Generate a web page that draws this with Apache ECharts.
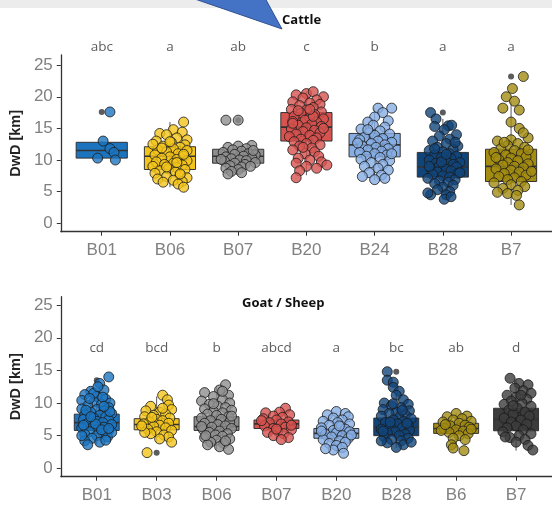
<!DOCTYPE html>
<html><head><meta charset="utf-8">
<script src="https://cdn.jsdelivr.net/npm/echarts@6/dist/echarts.min.js"></script>
<style>html,body{margin:0;padding:0;background:#fff}#c{width:552px;height:506px}</style>
</head><body><div id="c"></div>
<script>
// ---------- DATA ----------
const cattleCats = ['B01','B06','B07','B20','B24','B28','B7'];
const goatCats = ['B01','B03','B06','B07','B20','B28','B6','B7'];
const cattleLetters = ['abc','a','ab','c','b','a','a'];
const goatLetters = ['cd','bcd','b','abcd','a','bc','ab','d'];
const yTicks = [0,5,10,15,20,25];
const cattleLetterY = 27.8;
const goatLetterY = 18.4;
// box stats: [low whisker, Q1, median, Q3, high whisker]
const cattleBox = [
  [10.0,10.3,11.5,12.8,13.0],
  [5.7,8.5,10.6,12.1,16.0],
  [7.6,9.5,10.6,11.7,12.3],
  [7.6,13.0,15.2,17.5,20.8],
  [6.8,10.5,12.4,14.2,18.2],
  [3.8,7.3,8.9,11.2,16.5],
  [2.9,6.6,9.0,11.7,19.3]
];
const goatBox = [
  [3.6,5.8,7.0,8.3,12.0],
  [3.9,5.9,6.7,7.6,11.0],
  [2.8,5.8,6.4,7.9,12.6],
  [4.3,6.1,6.8,7.4,9.0],
  [2.5,4.6,5.35,6.1,8.5],
  [3.1,5.0,6.3,7.7,11.5],
  [3.1,5.35,6.1,6.9,8.4],
  [2.7,5.75,7.5,9.2,13.8]
];
// outliers: [category index, value]
const cattleOutliers = [[0,17.6],[2,16.3],[5,17.5],[6,23.2]];
const goatOutliers = [[0,13.5],[1,2.4],[5,14.8]];
// jittered points: [x offset within category, value]
const cattleB01 = [[0.12,17.6],[0.02,13.0],[0.12,11.8],[0.18,11.2],[-0.06,10.3],[0.2,10.0]];
const cattleB06 = [[0.2,16.0],[0.05,14.8],[-0.15,14.2],[0.18,14.4],[-0.05,14.0],[0.25,13.2],[0.1,13.5],[-0.2,13.0],[0.02,12.8],[0.22,12.4],[-0.1,12.2],[0.15,12.0],[0.05,11.8],[-0.18,11.6],[0.25,11.5],[-0.05,11.3],[0.12,11.0],[-0.22,10.8],[0.2,10.6],[0.0,10.5],[-0.12,10.3],[0.1,10.1],[0.25,9.9],[-0.2,9.7],[0.05,9.5],[-0.08,9.3],[0.18,9.2],[-0.25,9.0],[0.1,8.8],[-0.02,8.6],[0.22,8.5],[-0.15,8.3],[0.08,8.1],[-0.22,7.9],[0.15,7.6],[-0.05,7.4],[0.25,7.2],[-0.18,7.0],[0.05,6.8],[0.18,6.6],[-0.1,6.5],[0.12,6.2],[0.2,5.7],[-0.12,11.9],[0.0,12.9],[0.2,10.9],[-0.25,12.5],[0.1,9.6],[-0.05,8.9],[0.15,7.8]];
const cattleB07 = [[-0.18,16.3],[0.0,16.3],[-0.15,12.0],[0.0,12.2],[0.2,12.3],[0.12,11.8],[-0.08,11.6],[0.05,11.4],[-0.22,11.2],[0.15,11.0],[0.25,10.8],[-0.05,10.9],[0.08,10.6],[-0.18,10.5],[0.2,10.3],[-0.1,10.2],[0.02,10.0],[0.12,9.9],[-0.2,9.8],[0.25,9.6],[-0.05,9.5],[0.1,9.3],[-0.12,9.1],[0.05,8.9],[-0.18,8.7],[0.0,8.5],[-0.1,8.2],[-0.15,7.8],[0.05,8.0],[0.18,9.0],[-0.25,10.1],[0.22,11.5]];
const cattleB20 = [[-0.15,20.3],[0.0,20.5],[0.25,20.0],[0.1,20.8],[-0.05,19.8],[0.15,19.5],[-0.2,19.2],[0.05,19.0],[0.2,18.8],[-0.1,18.6],[0.1,18.3],[-0.22,18.0],[0.0,17.9],[0.22,17.6],[-0.08,17.4],[0.12,17.2],[-0.18,16.9],[0.05,16.7],[0.25,16.5],[-0.02,16.3],[-0.2,16.1],[0.15,16.0],[0.08,15.7],[-0.12,15.5],[0.22,15.3],[0.0,15.1],[-0.22,14.9],[0.12,14.7],[-0.05,14.5],[0.2,14.3],[-0.15,14.1],[0.05,13.9],[-0.25,13.7],[0.15,13.5],[-0.08,13.3],[0.1,13.1],[-0.18,12.9],[0.0,12.6],[0.2,12.4],[-0.1,12.2],[0.08,11.9],[-0.2,11.6],[0.12,11.3],[-0.02,11.0],[0.18,10.6],[-0.12,10.3],[0.05,10.0],[0.22,9.7],[-0.15,9.5],[0.0,9.0],[0.15,8.7],[-0.1,8.3],[-0.15,7.2],[0.3,9.2],[-0.05,12.0],[0.1,16.9],[-0.12,17.8],[0.05,18.0],[0.25,15.0],[-0.2,15.8]];
const cattleB24 = [[0.05,18.2],[0.25,18.2],[0.12,17.5],[0.0,16.8],[-0.1,16.0],[0.2,16.2],[-0.02,15.5],[0.15,15.2],[-0.2,14.9],[0.08,14.6],[-0.08,14.3],[0.22,14.1],[0.0,13.9],[-0.15,13.6],[0.12,13.4],[-0.22,13.2],[0.05,13.0],[0.25,12.8],[-0.05,12.6],[0.15,12.4],[-0.18,12.2],[0.02,12.0],[0.2,11.8],[-0.1,11.6],[0.1,11.4],[-0.22,11.2],[0.0,11.0],[0.18,10.8],[-0.12,10.6],[0.08,10.4],[-0.2,10.1],[0.22,9.9],[-0.05,9.6],[0.12,9.3],[-0.15,9.0],[0.05,8.7],[0.2,8.4],[-0.08,8.0],[0.1,7.6],[-0.18,7.4],[0.0,6.9],[0.15,7.1],[-0.25,12.7],[0.25,11.0],[-0.1,14.8]];
const cattleB28 = [[-0.18,17.5],[-0.1,16.5],[-0.12,15.3],[0.08,15.4],[0.13,15.5],[0.02,14.8],[0.2,14.0],[-0.05,13.8],[0.1,13.3],[-0.15,13.0],[0.05,12.6],[0.22,12.2],[-0.08,12.0],[0.15,11.7],[-0.2,11.5],[0.0,11.3],[0.1,11.0],[-0.12,10.8],[0.2,10.6],[-0.02,10.4],[0.12,10.2],[-0.2,10.0],[0.05,9.8],[0.25,9.6],[-0.1,9.5],[0.15,9.3],[-0.05,9.1],[0.2,8.9],[-0.18,8.7],[0.05,8.5],[0.12,8.3],[-0.08,8.1],[0.22,7.9],[-0.15,7.7],[0.0,7.5],[0.1,7.3],[-0.22,7.1],[0.18,6.9],[-0.05,6.7],[0.08,6.5],[-0.12,6.3],[0.15,6.0],[0.0,5.7],[-0.08,5.3],[0.1,5.0],[0.05,4.5],[-0.18,4.5],[-0.22,4.8],[0.02,3.8],[0.12,4.2],[-0.02,9.7],[0.18,12.8],[-0.2,9.0],[0.25,8.0],[0.05,10.9],[-0.12,11.8]];
const cattleB7 = [[0.18,23.2],[0.02,21.3],[-0.07,20.0],[0.05,19.3],[-0.12,18.2],[0.12,17.9],[0.0,16.0],[0.12,15.0],[0.0,13.2],[0.25,13.5],[-0.2,13.0],[0.1,12.6],[-0.05,12.3],[0.2,12.0],[-0.15,11.8],[0.05,11.5],[-0.25,11.2],[0.15,11.0],[-0.08,10.8],[0.22,10.5],[0.0,10.3],[-0.18,10.1],[0.1,9.9],[-0.05,9.6],[0.25,9.4],[-0.12,9.2],[0.05,9.0],[0.18,8.8],[-0.22,8.6],[0.0,8.4],[0.12,8.1],[-0.1,7.9],[0.22,7.6],[-0.18,7.4],[0.05,7.2],[-0.05,6.9],[0.15,6.6],[-0.25,6.4],[0.0,6.1],[0.2,5.8],[-0.12,5.5],[0.1,5.2],[-0.2,4.9],[-0.05,4.7],[0.08,4.4],[0.12,2.9],[0.25,11.6],[-0.1,12.8],[0.18,14.3],[-0.22,10.4],[0.3,8.2]];
const goatB01 = [[0.2,14.0],[0.05,13.0],[0.12,12.0],[-0.1,11.8],[-0.2,11.3],[0.0,11.0],[0.15,10.6],[-0.25,10.4],[0.22,10.0],[-0.05,10.2],[0.08,9.8],[-0.15,9.6],[0.2,9.3],[-0.25,9.1],[0.0,9.0],[0.12,8.8],[-0.1,8.6],[0.25,8.4],[-0.2,8.2],[0.05,8.1],[0.15,7.9],[-0.05,7.7],[-0.22,7.5],[0.2,7.4],[0.0,7.2],[0.1,7.0],[-0.15,6.9],[0.25,6.7],[-0.05,6.5],[0.12,6.3],[-0.25,6.2],[0.02,6.0],[0.2,5.8],[-0.12,5.6],[0.1,5.4],[-0.2,5.2],[0.0,5.0],[0.18,4.8],[-0.08,4.6],[-0.2,4.2],[0.05,4.0],[0.15,4.3],[-0.15,3.6],[-0.05,11.5],[0.1,10.9],[-0.18,8.9],[0.22,8.7],[-0.02,6.8],[0.08,5.9],[-0.25,5.0],[0.25,5.5],[-0.1,7.9],[0.12,9.5],[-0.12,10.7],[0.02,12.5],[-0.22,6.6],[0.2,6.1]];
const goatB03 = [[0.1,11.2],[0.18,10.5],[0.2,9.7],[-0.1,9.5],[0.25,9.0],[-0.18,8.8],[0.05,8.6],[0.15,8.3],[-0.05,8.1],[-0.2,7.9],[0.22,7.7],[0.0,7.5],[0.1,7.3],[-0.12,7.1],[0.2,6.9],[-0.22,6.8],[0.05,6.6],[-0.05,6.4],[0.15,6.2],[-0.15,6.0],[0.25,5.8],[0.0,5.6],[-0.1,5.3],[0.12,5.1],[0.2,4.8],[-0.2,5.5],[0.05,4.5],[0.25,4.0],[-0.16,2.4],[-0.25,6.5],[0.1,9.2],[-0.08,7.8]];
const goatB06 = [[0.15,12.8],[0.05,12.0],[-0.2,11.6],[0.2,11.2],[-0.05,11.0],[0.1,10.5],[-0.25,10.3],[0.22,10.0],[-0.12,9.8],[0.02,9.5],[0.15,9.3],[-0.2,9.1],[0.25,8.9],[-0.05,8.7],[0.1,8.5],[-0.15,8.3],[0.0,8.1],[0.2,7.9],[-0.25,7.7],[0.08,7.5],[-0.1,7.3],[0.22,7.1],[-0.2,6.9],[0.02,6.7],[0.15,6.5],[-0.08,6.3],[0.25,6.1],[-0.22,5.9],[0.05,5.7],[-0.12,5.5],[0.18,5.3],[-0.02,5.1],[0.1,4.9],[-0.2,4.7],[0.22,4.5],[0.0,4.3],[-0.1,4.0],[0.12,3.8],[0.05,3.3],[0.2,2.9],[-0.15,3.6],[-0.25,6.4],[0.25,8.0],[-0.05,9.9],[0.1,11.8],[-0.18,5.0],[0.15,4.2]];
const goatB07 = [[0.15,9.2],[0.05,8.6],[-0.18,8.5],[0.22,8.2],[-0.05,8.0],[0.1,7.8],[-0.22,7.6],[0.0,7.4],[0.2,7.1],[-0.12,7.0],[0.08,6.8],[-0.2,6.5],[0.15,6.3],[-0.05,6.1],[0.25,5.9],[0.02,5.7],[-0.15,5.5],[0.12,5.3],[-0.05,5.0],[0.2,4.7],[0.08,4.4],[-0.25,7.3],[0.25,6.6],[0.0,6.0]];
const goatB20 = [[0.0,8.7],[0.15,8.4],[-0.15,8.2],[0.2,7.9],[-0.05,7.7],[0.1,7.4],[-0.22,7.2],[0.02,7.0],[0.22,6.8],[-0.12,6.6],[0.08,6.4],[-0.25,6.2],[0.15,6.0],[-0.05,5.8],[0.22,5.6],[0.0,5.4],[-0.18,5.2],[0.1,5.0],[-0.08,4.8],[0.2,4.6],[-0.22,4.4],[0.05,4.2],[0.15,4.0],[-0.12,3.8],[0.0,3.5],[0.1,3.2],[-0.05,2.8],[0.12,2.3],[-0.18,3.0],[0.25,5.1],[-0.25,5.7],[0.05,6.5]];
const goatB28 = [[-0.15,14.8],[-0.15,13.5],[-0.05,13.2],[-0.05,12.4],[0.05,11.8],[0.0,11.2],[0.12,10.5],[-0.2,10.0],[0.2,9.8],[-0.08,9.6],[0.08,9.3],[-0.22,9.0],[0.22,8.8],[0.0,8.6],[-0.12,8.4],[0.15,8.2],[-0.25,8.0],[0.05,7.8],[0.25,7.6],[-0.05,7.4],[0.12,7.2],[-0.18,7.0],[0.02,6.8],[0.2,6.6],[-0.1,6.4],[0.1,6.2],[-0.25,6.0],[0.22,5.8],[-0.02,5.6],[-0.15,5.4],[0.15,5.2],[0.05,5.0],[-0.2,4.8],[0.2,4.6],[-0.08,4.4],[0.08,4.2],[-0.15,3.9],[0.12,3.6],[0.0,3.2],[-0.25,4.2],[0.25,4.0],[-0.05,9.9],[0.1,8.9],[-0.1,7.1],[0.18,6.9],[-0.22,5.7]];
const goatB6 = [[0.0,8.4],[0.18,8.0],[-0.15,7.9],[0.1,7.6],[-0.05,7.4],[0.25,7.2],[-0.22,7.1],[0.05,6.9],[0.15,6.6],[-0.1,6.5],[0.22,6.3],[-0.2,6.1],[0.0,5.9],[0.12,5.7],[-0.12,5.5],[0.2,5.3],[-0.25,5.8],[0.05,5.0],[-0.05,4.6],[0.15,4.4],[-0.08,3.6],[-0.05,3.1],[0.13,2.7],[0.25,6.0],[-0.18,6.7]];
const goatB7 = [[-0.1,13.8],[0.05,13.0],[0.2,12.8],[-0.02,12.3],[0.12,11.9],[0.25,11.5],[-0.15,11.2],[0.0,10.9],[0.18,10.6],[-0.08,10.3],[0.1,10.0],[-0.2,9.8],[0.25,9.5],[0.02,9.2],[-0.12,8.9],[0.15,8.6],[-0.05,8.3],[0.22,8.0],[-0.2,7.7],[0.08,7.4],[-0.08,7.1],[0.18,6.8],[0.0,6.5],[-0.15,6.2],[0.12,5.9],[-0.22,5.6],[0.25,5.3],[0.05,5.0],[-0.1,4.7],[0.15,4.4],[0.0,4.0],[0.2,3.5],[0.28,2.8],[-0.18,4.8],[-0.05,9.6],[0.08,11.2]];
const cattlePoints = [cattleB01,cattleB06,cattleB07,cattleB20,cattleB24,cattleB28,cattleB7];
const goatPoints = [goatB01,goatB03,goatB06,goatB07,goatB20,goatB28,goatB6,goatB7];

// ---------- STYLE ----------
const C = {B01:'#1c74bf',B06:'#f3c41a',B03:'#f3c41a',B07g:'#8e8e8e',B20:'#d6534f',B24:'#86aee3',B28:'#11457a',B7o:'#a38c12',B7d:'#3c3c3c'};
const cattleColors = [C.B01,C.B06,C.B07g,C.B20,C.B24,C.B28,C.B7o];
const goatColors = [C.B01,C.B03,C.B07g,C.B20,C.B24,C.B28,C.B7o,C.B7d];

const chart = echarts.init(document.getElementById('c'), null, {renderer:'canvas'});

function makeBoxRender(colors){
  return function(params, api){
    const x = api.value(0);
    const lo = api.value(1), q1 = api.value(2), md = api.value(3), q3 = api.value(4), hi = api.value(5);
    const w = api.size([0.75,0])[0];
    const pHi = api.coord([x,hi]), pQ3 = api.coord([x,q3]), pMd = api.coord([x,md]), pQ1 = api.coord([x,q1]), pLo = api.coord([x,lo]);
    const cx = pMd[0];
    return {type:'group', children:[
      {type:'line', shape:{x1:cx,y1:pHi[1],x2:cx,y2:pQ3[1]}, style:{stroke:'#555',lineWidth:1}},
      {type:'line', shape:{x1:cx,y1:pQ1[1],x2:cx,y2:pLo[1]}, style:{stroke:'#555',lineWidth:1}},
      {type:'rect', shape:{x:cx-w/2,y:pQ3[1],width:w,height:pQ1[1]-pQ3[1]}, style:{fill:colors[params.dataIndex],stroke:'#333',lineWidth:1}},
      {type:'line', shape:{x1:cx-w/2,y1:pMd[1],x2:cx+w/2,y2:pMd[1]}, style:{stroke:'#333',lineWidth:1.6}}
    ]};
  };
}

function pointData(groups, colors){
  const out = [];
  groups.forEach((g,i)=>g.forEach(p=>out.push({value:[i+p[0],p[1]], itemStyle:{color:colors[i]}})));
  return out;
}

const labelFont = {color:'#808080', fontSize:17, fontFamily:'Liberation Sans'};
function xAxisCfg(grid, cats){
  const idx = cats.map((_,i)=>i);
  return {type:'value', gridIndex:grid, min:-0.6, max:cats.length-0.4,
    axisLine:{show:true,onZero:false,lineStyle:{color:'#333',width:1.3}},
    axisTick:{show:true,length:4,customValues:idx,lineStyle:{color:'#333'}},
    axisLabel:Object.assign({customValues:idx, margin:10, formatter:v=>cats[Math.round(v)]}, labelFont),
    splitLine:{show:false}};
}
function yAxisCfg(grid, min, max){
  return {type:'value', gridIndex:grid, min:min, max:max,
    axisLine:{show:true,onZero:false,lineStyle:{color:'#333',width:1.3}},
    axisTick:{show:true,length:4,customValues:yTicks,lineStyle:{color:'#333'}},
    axisLabel:Object.assign({customValues:yTicks, margin:8}, labelFont),
    splitLine:{show:false},
    name:'DwD [km]', nameLocation:'middle', nameGap:33,
    nameTextStyle:{fontFamily:'Liberation Sans', fontWeight:'bold', fontSize:14.5, color:'#222'}};
}

const ptStyle = {borderColor:'#1a1a1a', borderWidth:1};
const letterStyle = {show:true, position:'inside', color:'#333', fontSize:13.5, fontFamily:'Open Sans'};

const option = {
  animation:false,
  backgroundColor:'#ffffff',
  graphic:[
    {type:'rect', shape:{x:0,y:0,width:552,height:8}, style:{fill:'#ececec'}, z:0},
    {type:'polygon', shape:{points:[[192,-2],[265,-2],[282,29]]}, style:{fill:'#4472c4',stroke:'#2f528f',lineWidth:1}, z:10}
  ],
  title:[
    {text:'Cattle', left:282, top:14, padding:0, textStyle:{fontFamily:'Open Sans', fontWeight:'bold', fontSize:13, color:'#111'}},
    {text:'Goat / Sheep', left:242, top:297, padding:0, textStyle:{fontFamily:'Open Sans', fontWeight:'bold', fontSize:13, color:'#111'}}
  ],
  grid:[
    {left:52.5, top:55, width:505.4, height:176.7},
    {left:53.3, top:296.7, width:500.2, height:180}
  ],
  xAxis:[xAxisCfg(0,cattleCats), xAxisCfg(1,goatCats)],
  yAxis:[yAxisCfg(0,-1.33,26.6), yAxisCfg(1,-1.29,26.3)],
  series:[
    {type:'custom', xAxisIndex:0, yAxisIndex:0, renderItem:makeBoxRender(cattleColors), data:cattleBox.map((b,i)=>[i].concat(b)), z:1, silent:true},
    {type:'custom', xAxisIndex:1, yAxisIndex:1, renderItem:makeBoxRender(goatColors), data:goatBox.map((b,i)=>[i].concat(b)), z:1, silent:true},
    {type:'scatter', xAxisIndex:0, yAxisIndex:0, symbolSize:6, itemStyle:{color:'#333'}, data:cattleOutliers, z:2, silent:true},
    {type:'scatter', xAxisIndex:1, yAxisIndex:1, symbolSize:6, itemStyle:{color:'#333'}, data:goatOutliers, z:2, silent:true},
    {type:'scatter', xAxisIndex:0, yAxisIndex:0, symbolSize:10, itemStyle:ptStyle, data:pointData(cattlePoints,cattleColors), z:3, silent:true, clip:false},
    {type:'scatter', xAxisIndex:1, yAxisIndex:1, symbolSize:10, itemStyle:ptStyle, data:pointData(goatPoints,goatColors), z:3, silent:true, clip:false},
    {type:'scatter', xAxisIndex:0, yAxisIndex:0, symbolSize:1, itemStyle:{color:'rgba(0,0,0,0)'}, clip:false, silent:true,
      label:Object.assign({}, letterStyle, {formatter:p=>cattleLetters[p.dataIndex]}),
      data:cattleLetters.map((_,i)=>[i,cattleLetterY])},
    {type:'scatter', xAxisIndex:1, yAxisIndex:1, symbolSize:1, itemStyle:{color:'rgba(0,0,0,0)'}, clip:false, silent:true,
      label:Object.assign({}, letterStyle, {formatter:p=>goatLetters[p.dataIndex]}),
      data:goatLetters.map((_,i)=>[i,goatLetterY])}
  ]
};
chart.setOption(option);
</script></body></html>
